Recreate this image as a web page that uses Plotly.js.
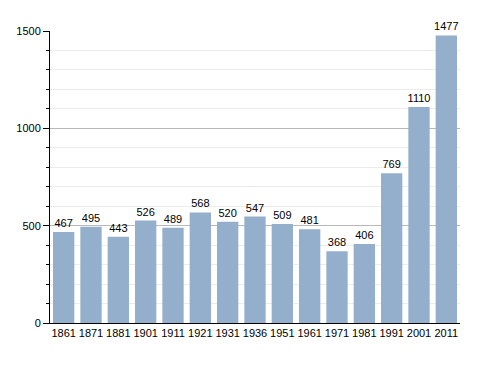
<!DOCTYPE html>
<html><head><meta charset="utf-8">
<script src="https://cdn.plot.ly/plotly-3.0.1.min.js"></script>
<style>html,body{margin:0;padding:0;background:#fff}#chart{width:488px;height:373px}</style>
</head><body><div id="chart"></div>
<script>
const years = ["1861","1871","1881","1901","1911","1921","1931","1936","1951","1961","1971","1981","1991","2001","2011"];
const population = [467,495,443,526,489,568,520,547,509,481,368,406,769,1110,1477];
const yTicks = [0,500,1000,1500];

Plotly.newPlot('chart', [{
  type: 'bar',
  x: years,
  y: population,
  text: population.map(String),
  textposition: 'outside',
  constraintext: 'none',
  cliponaxis: false,
  textfont: {family: 'Liberation Sans, Arial, sans-serif', size: 11, color: '#000'},
  marker: {color: '#94afcc'},
  hoverinfo: 'none'
}], {
  width: 488, height: 373,
  margin: {l: 50, r: 28, t: 31, b: 50},
  paper_bgcolor: '#fff', plot_bgcolor: '#fff',
  bargap: 0.22,
  showlegend: false,
  font: {family: 'Liberation Sans, Arial, sans-serif', size: 11, color: '#000'},
  xaxis: {
    type: 'category',
    showline: true, linecolor: '#000', linewidth: 1,
    ticks: '', showgrid: false, tickfont: {size: 11}
  },
  yaxis: {
    range: [0, 1500],
    tickvals: yTicks,
    ticktext: yTicks.map(String),
    showline: true, linecolor: '#000', linewidth: 1,
    ticks: 'outside', ticklen: 6, tickcolor: '#000',
    showgrid: true, gridcolor: '#b8b8b8', gridwidth: 1,
    zeroline: false,
    tickfont: {size: 11},
    minor: {dtick: 100, ticks: 'outside', ticklen: 3, tickcolor: '#000', showgrid: true, gridcolor: '#ececec', gridwidth: 1}
  }
}, {staticPlot: true, displayModeBar: false});
</script></body></html>
